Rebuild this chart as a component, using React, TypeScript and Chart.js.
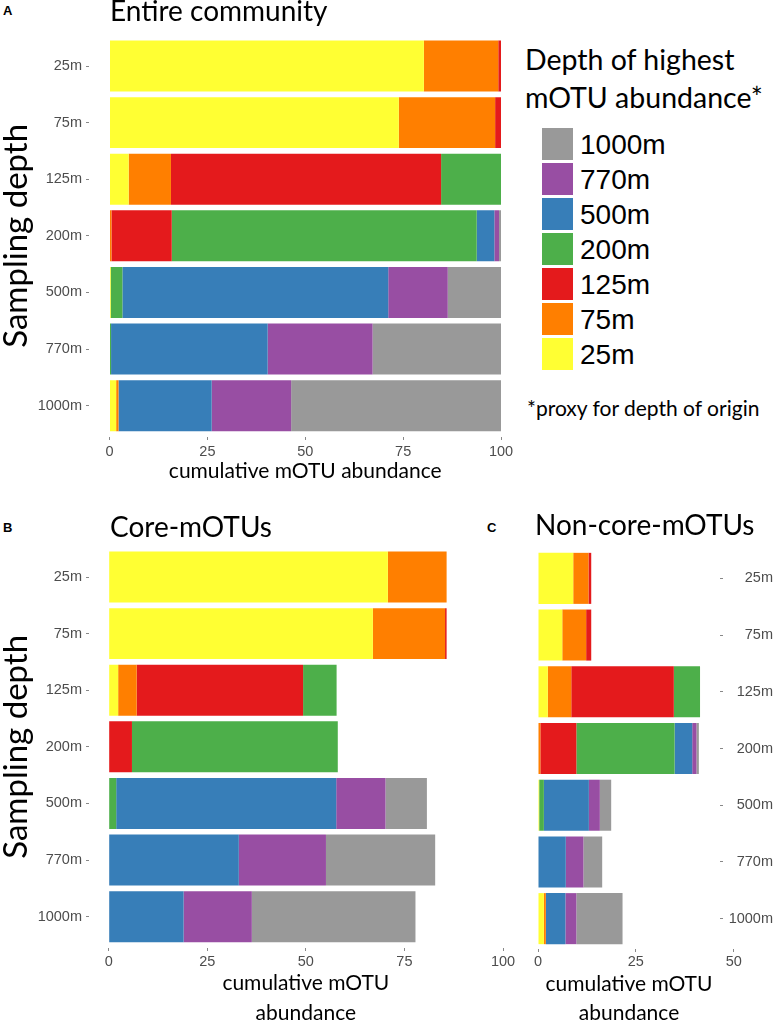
import React, { useEffect, useRef } from "react";
import { Chart, registerables } from "chart.js";

Chart.register(...registerables);

// ---------- data ----------
const samplingDepths = ["25m", "75m", "125m", "200m", "500m", "770m", "1000m"];
const originDepths = ["25m", "75m", "125m", "200m", "500m", "770m", "1000m"];
const originColors = ["#FFFF33", "#FF7F00", "#E41A1C", "#4DAF4A", "#377EB8", "#984EA3", "#999999"];

// Panel A: entire community (share by depth of highest mOTU abundance)
const entireFrom25 = [80.3, 73.9, 4.9, 0, 0.3, 0, 1.7];
const entireFrom75 = [19.0, 24.6, 10.8, 0.5, 0, 0, 0.6];
const entireFrom125 = [0.7, 1.5, 69.0, 15.4, 0, 0, 0];
const entireFrom200 = [0, 0, 15.3, 77.9, 3.0, 0.4, 0];
const entireFrom500 = [0, 0, 0, 4.5, 67.9, 40.0, 23.8];
const entireFrom770 = [0, 0, 0, 1.2, 15.2, 26.8, 20.3];
const entireFrom1000 = [0, 0, 0, 0.5, 13.6, 32.8, 53.6];

// Panel B: core mOTUs
const coreFrom25 = [70.8, 67.0, 2.4, 0, 0, 0, 0];
const coreFrom75 = [14.9, 18.3, 4.7, 0, 0, 0, 0];
const coreFrom125 = [0, 0.4, 42.2, 5.9, 0, 0, 0];
const coreFrom200 = [0, 0, 8.5, 52.2, 1.9, 0, 0];
const coreFrom500 = [0, 0, 0, 0, 55.8, 33.0, 19.0];
const coreFrom770 = [0, 0, 0, 0, 12.5, 22.1, 17.3];
const coreFrom1000 = [0, 0, 0, 0, 10.5, 27.7, 41.5];

// Panel C: non-core mOTUs
const nonCoreFrom25 = [9.0, 6.2, 2.5, 0, 0.3, 0, 1.5];
const nonCoreFrom75 = [3.9, 6.1, 6.0, 0.6, 0, 0, 0.5];
const nonCoreFrom125 = [0.7, 1.3, 26.2, 9.2, 0, 0, 0];
const nonCoreFrom200 = [0, 0, 6.7, 25.1, 1.2, 0, 0];
const nonCoreFrom500 = [0, 0, 0, 4.5, 11.5, 7.1, 5.0];
const nonCoreFrom770 = [0, 0, 0, 1.1, 2.8, 4.5, 2.8];
const nonCoreFrom1000 = [0, 0, 0, 0.6, 2.9, 4.8, 11.8];

const ticksAB = [0, 25, 50, 75, 100];
const ticksC = [0, 25, 50];

const entireSeries = [entireFrom25, entireFrom75, entireFrom125, entireFrom200, entireFrom500, entireFrom770, entireFrom1000];
const coreSeries = [coreFrom25, coreFrom75, coreFrom125, coreFrom200, coreFrom500, coreFrom770, coreFrom1000];
const nonCoreSeries = [nonCoreFrom25, nonCoreFrom75, nonCoreFrom125, nonCoreFrom200, nonCoreFrom500, nonCoreFrom770, nonCoreFrom1000];

// ---------- styling ----------
const FONT_TICK = "'Liberation Sans', Arial, Helvetica, sans-serif";
const FONT_TEXT = "Lato, 'Open Sans', sans-serif";
const TICK_COLOR = "#4d4d4d";
const TICK_MARK_COLOR = "#888888";

type PanelProps = {
  left: number;
  top: number;
  width: number;
  height: number;
  series: number[][];
  xMax: number;
  xTicks: number[];
  xTitle: string | string[];
  xTitleLineHeight: number;
  xAxisHeight: number;
  xTickLen: number;
  xTickGap: number;
  xTickPad: number;
  yPos: "left" | "right";
  yAxisWidth: number;
  yTickLen: number;
  yTickPad: number;
  yTitle?: string;
  padding: { top: number; right: number; bottom: number; left: number };
};

function Panel(p: PanelProps) {
  const ref = useRef<HTMLCanvasElement | null>(null);
  useEffect(() => {
    if (!ref.current) return;
    const chart = new Chart(ref.current, {
      type: "bar",
      data: {
        labels: samplingDepths,
        datasets: p.series.map((d, i) => ({
          label: originDepths[i],
          data: d,
          backgroundColor: originColors[i],
          borderWidth: 0,
          barPercentage: 0.9,
          categoryPercentage: 1,
        })),
      },
      options: {
        indexAxis: "y",
        responsive: false,
        maintainAspectRatio: false,
        animation: false,
        layout: { padding: p.padding },
        plugins: {
          legend: { display: false },
          tooltip: { enabled: false },
          title: { display: false },
        },
        scales: {
          x: {
            type: "linear",
            stacked: true,
            min: 0,
            max: p.xMax,
            position: "bottom",
            afterBuildTicks: (axis: any) => {
              axis.ticks = p.xTicks.map((v) => ({ value: v }));
            },
            afterFit: (axis: any) => {
              axis.height = p.xAxisHeight;
            },
            grid: {
              display: true,
              drawOnChartArea: false,
              drawTicks: true,
              tickLength: p.xTickLen,
              tickColor: TICK_MARK_COLOR,
              tickWidth: 1,
              tickBorderDash: [p.xTickLen - p.xTickGap, p.xTickGap + 2],
              tickBorderDashOffset: p.xTickLen - p.xTickGap + 2,
              offset: false,
            },
            border: { display: false },
            ticks: {
              autoSkip: false,
              maxRotation: 0,
              padding: p.xTickPad,
              color: TICK_COLOR,
              font: { family: FONT_TICK, size: 14.5 },
            },
            title: {
              display: true,
              text: p.xTitle,
              color: "#000000",
              padding: 0,
              font: { family: FONT_TEXT, size: 21, lineHeight: p.xTitleLineHeight / 21 },
            },
          },
          y: {
            type: "category",
            stacked: true,
            position: p.yPos,
            offset: true,
            afterFit: (axis: any) => {
              axis.width = p.yAxisWidth;
            },
            grid: {
              display: true,
              drawOnChartArea: false,
              drawTicks: true,
              tickLength: p.yTickLen,
              tickColor: TICK_MARK_COLOR,
              tickWidth: 1,
              tickBorderDash: [3, 60],
              offset: false,
            },
            border: { display: false },
            ticks: {
              padding: p.yTickPad,
              color: TICK_COLOR,
              crossAlign: p.yPos === "right" ? "far" : "near",
              font: { family: FONT_TICK, size: 14.5 },
            },
            title: {
              display: !!p.yTitle,
              text: p.yTitle || "",
              color: "#000000",
              padding: 0,
              font: { family: FONT_TEXT, size: 33, lineHeight: 1 },
            },
          },
        },
      } as any,
    });
    return () => chart.destroy();
  }, []);
  return (
    <canvas
      ref={ref}
      width={p.width}
      height={p.height}
      style={{ position: "absolute", left: p.left, top: p.top, width: p.width, height: p.height }}
    />
  );
}

// text placed by baseline
function Txt(props: { text: string; left: number; baseline: number; size: number; family: string; k: number; bold?: boolean; color?: string }) {
  const { text, left, baseline, size, family, k, bold, color } = props;
  return (
    <div
      style={{
        position: "absolute",
        left,
        top: baseline - k * size,
        fontFamily: family,
        fontSize: size,
        lineHeight: `${size}px`,
        fontWeight: bold ? 700 : 400,
        color: color || "#000",
        whiteSpace: "nowrap",
      }}
    >
      {text}
    </div>
  );
}

const K_LATO = 0.887;
const K_SANS = 0.8465;

export default function App() {
  const legendItems = originDepths.map((d, i) => ({ d, c: originColors[i] })).reverse();
  return (
    <div style={{ position: "absolute", left: 0, top: 0, width: 777, height: 1022, overflow: "hidden", background: "#fff" }}>
      {/* Panel A */}
      <Panel
        left={0}
        top={25}
        width={519}
        height={459}
        series={entireSeries}
        xMax={100}
        xTicks={ticksAB}
        xTitle="cumulative mOTU abundance"
        xTitleLineHeight={25}
        xAxisHeight={50}
        xTickLen={6}
        xTickGap={3}
        xTickPad={3}
        yPos="left"
        yAxisWidth={109.5}
        yTickLen={23.5}
        yTickPad={4}
        yTitle="Sampling depth"
        padding={{ top: 12, right: 18, bottom: 0, left: 0 }}
      />
      {/* Panel B */}
      <Panel
        left={0}
        top={536}
        width={521}
        height={492}
        series={coreSeries}
        xMax={100}
        xTicks={ticksAB}
        xTitle={["cumulative mOTU", "abundance"]}
        xTitleLineHeight={30}
        xAxisHeight={83}
        xTickLen={6}
        xTickGap={3}
        xTickPad={2}
        yPos="left"
        yAxisWidth={108.7}
        yTickLen={22.7}
        yTickPad={4}
        yTitle="Sampling depth"
        padding={{ top: 12, right: 18, bottom: 0, left: 0 }}
      />
      {/* Panel C */}
      <Panel
        left={528}
        top={538}
        width={247}
        height={489}
        series={nonCoreSeries}
        xMax={46.5}
        xTicks={ticksC}
        xTitle={["cumulative mOTU", "abundance"]}
        xTitleLineHeight={28.5}
        xAxisHeight={80}
        xTickLen={5}
        xTickGap={2}
        xTickPad={1}
        yPos="right"
        yAxisWidth={53}
        yTickLen={4}
        yTickPad={2}
        padding={{ top: 12, right: 2, bottom: 0, left: 10 }}
      />

      {/* panel letters and titles */}
      <Txt text="A" left={3} baseline={15} size={13} family={FONT_TICK} k={K_SANS} bold />
      <Txt text="B" left={3} baseline={532} size={13} family={FONT_TICK} k={K_SANS} bold />
      <Txt text="C" left={487} baseline={532} size={13} family={FONT_TICK} k={K_SANS} bold />
      <Txt text="Entire community" left={110} baseline={21} size={28} family={FONT_TEXT} k={K_LATO} />
      <Txt text="Core-mOTUs" left={110} baseline={536.5} size={28} family={FONT_TEXT} k={K_LATO} />
      <Txt text="Non-core-mOTUs" left={535} baseline={535} size={28} family={FONT_TEXT} k={K_LATO} />

      {/* legend */}
      <Txt text="Depth of highest" left={525} baseline={70} size={28.5} family={FONT_TEXT} k={K_LATO} />
      <Txt text="mOTU abundance*" left={525} baseline={108} size={28.5} family={FONT_TEXT} k={K_LATO} />
      {legendItems.map((it, i) => (
        <React.Fragment key={it.d}>
          <div style={{ position: "absolute", left: 542, top: 128 + 35 * i, width: 31, height: 32, background: it.c }} />
          <Txt text={it.d} left={580} baseline={155 + 35 * i} size={28} family={FONT_TICK} k={K_SANS} />
        </React.Fragment>
      ))}
      <Txt text="*proxy for depth of origin" left={527} baseline={416} size={21} family={FONT_TEXT} k={K_LATO} />
    </div>
  );
}
